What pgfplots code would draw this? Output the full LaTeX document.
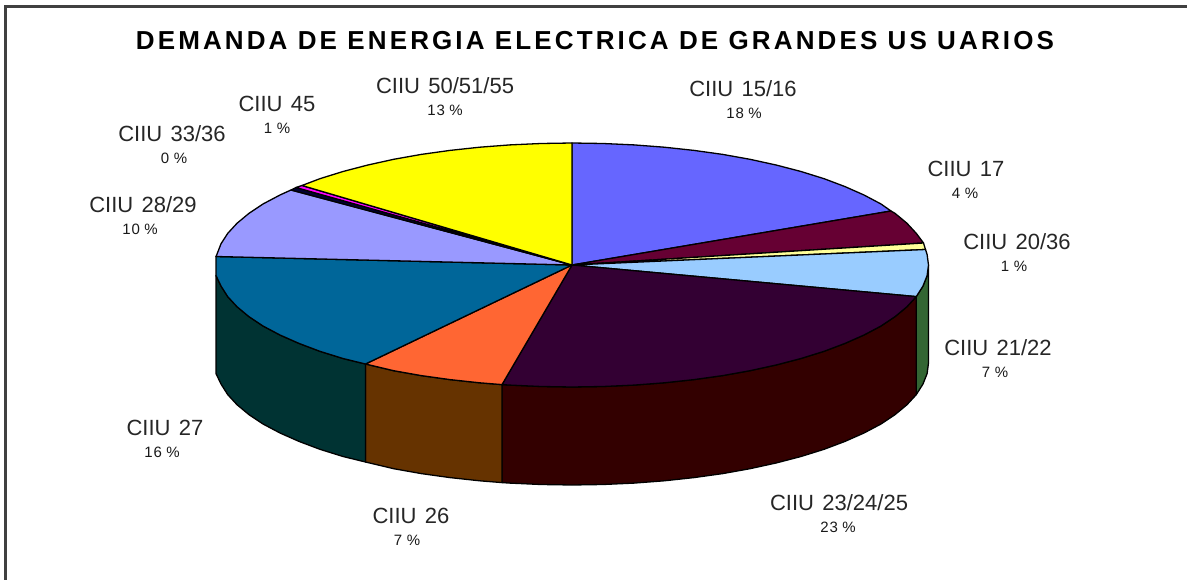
\documentclass[border=0pt]{standalone}
\usepackage{pgfplots}
\pgfplotsset{compat=1.18}
\usepackage{fontspec}
\setmainfont{Liberation Sans}
\newfontfamily\titlefont[LetterSpace=12,Scale=1.0]{Liberation Sans Bold}
\newfontfamily\pctfont[LetterSpace=6]{Liberation Sans}
\definecolor{cA}{HTML}{6666FF}
\definecolor{cB}{HTML}{660033}
\definecolor{cC}{HTML}{FFFF99}
\definecolor{cD}{HTML}{99CCFF}
\definecolor{cDs}{HTML}{336633}
\definecolor{cE}{HTML}{330033}
\definecolor{cEs}{HTML}{330000}
\definecolor{cF}{HTML}{FF6633}
\definecolor{cFs}{HTML}{663300}
\definecolor{cG}{HTML}{006699}
\definecolor{cGs}{HTML}{003333}
\definecolor{cH}{HTML}{9999FF}
\definecolor{cI}{HTML}{000033}
\definecolor{cJ}{HTML}{FF00FF}
\definecolor{cK}{HTML}{FFFF00}
\definecolor{frameC}{HTML}{404040}
\newcommand{\lab}[5]{%
  \node[font=\fontsize{22}{24}\selectfont,text=black!85,inner sep=0pt,anchor=center] at (axis cs:#1,#2) {CIIU\hspace{0.38em}#3};
  \node[font=\pctfont\fontsize{15}{17}\selectfont,text=black!90,inner sep=0pt,anchor=center] at (axis cs:#4,#2+24) {#5\hspace{0.3em}\%};
}
\begin{document}
\begin{tikzpicture}
\begin{axis}[
  scale only axis,
  width=1187pt,height=580pt,
  xmin=0,xmax=1187,ymin=0,ymax=580,
  y dir=reverse,
  hide axis,
  clip=true,
  every axis plot/.append style={draw=black,line width=1.3pt,line join=round},
]
% page extent
\addplot[draw=none,fill=white] coordinates {(0,0)(1187,0)(1187,580)(0,580)} --cycle;
% frame
\addplot[draw=frameC,line width=3pt,line join=miter] coordinates {(5.5,580)(5.5,6.5)(1187,6.5)};
% side walls
\addplot[fill=cDs] coordinates {(916.3,296.6)(923,286)(927.1,275.6)(928.5,265)(928.5,363)(927.1,373.6)(923,384)(916.3,394.6)} --cycle;
\addplot[fill=cEs] coordinates {(916.3,296.6)(907,306.7)(895.1,316.6)(881,326)(864,335)(845,343.4)(824.1,351.3)(801,358.5)(776.5,364.9)(750,370.7)(722.7,375.6)(694,379.6)(664.3,382.8)(634,385.1)(603.1,386.5)(572,387)(541,386.5)(510,385.1)(502,384.6)
 (502,482.6)(510,483.1)(541,484.5)(572,485)(603.1,484.5)(634,483.1)(664.3,480.8)(694,477.6)(722.7,473.6)(750,468.7)(776.5,462.9)(801,456.5)(824.1,449.3)(845,441.4)(864,433)(881,424)(895.1,414.6)(907,404.7)(916.3,394.6)} --cycle;
\addplot[fill=cFs] coordinates {(502,384.6)(479.7,382.8)(450,379.6)(421.3,375.6)(393.7,370.7)(365.5,364)
 (365.5,462)(393.7,468.7)(421.3,473.6)(450,477.6)(479.7,480.8)(502,482.6)} --cycle;
\addplot[fill=cGs] coordinates {(365.5,364)(343,358.5)(319.9,351.3)(299,343.4)(280,335)(263,326)(248.9,316.6)(237,306.7)(227.7,296.6)(221,286)(216,275.6)
 (216,373.6)(221,384)(227.7,394.6)(237,404.7)(248.9,414.6)(263,424)(280,433)(299,441.4)(319.9,449.3)(343,456.5)(365.5,462)} --cycle;
% top wedges
\addplot[fill=cA] coordinates {(572,265)(572,143)(603.1,143.5)(634,144.9)(664.3,147.2)(694,150.4)(722.7,154.4)(750,159.3)(776.5,165.1)(801,171.5)(824.1,178.7)(845,186.6)(864,195)(881,204)(891,211)} --cycle;
\addplot[fill=cB] coordinates {(572,265)(891,211)(895.1,213.4)(907,223.3)(916.3,233.4)(923.5,243)} --cycle;
\addplot[fill=cC] coordinates {(572,265)(923.5,243)(925.5,249.5)} --cycle;
\addplot[fill=cD] coordinates {(572,265)(925.5,249.5)(927.1,254.4)(928.5,265)(927.1,275.6)(923,286)(916.3,296.6)} --cycle;
\addplot[fill=cE] coordinates {(572,265)(916.3,296.6)(907,306.7)(895.1,316.6)(881,326)(864,335)(845,343.4)(824.1,351.3)(801,358.5)(776.5,364.9)(750,370.7)(722.7,375.6)(694,379.6)(664.3,382.8)(634,385.1)(603.1,386.5)(572,387)(541,386.5)(510,385.1)(502,384.6)} --cycle;
\addplot[fill=cF] coordinates {(572,265)(502,384.6)(479.7,382.8)(450,379.6)(421.3,375.6)(393.7,370.7)(365.5,364)} --cycle;
\addplot[fill=cG] coordinates {(572,265)(365.5,364)(343,358.5)(319.9,351.3)(299,343.4)(280,335)(263,326)(248.9,316.6)(237,306.7)(227.7,296.6)(221,286)(216,275.6)(216,256.5)} --cycle;
\addplot[fill=cH] coordinates {(572,265)(216,256.5)(216.9,254.4)(221,243.8)(227.7,233.4)(237,223.3)(248.9,213.4)(263,204)(280,195)(291,190)} --cycle;
\addplot[fill=cI] coordinates {(572,265)(291,190)(296,187.5)} --cycle;
\addplot[fill=cJ] coordinates {(572,265)(296,187.5)(302,185.5)} --cycle;
\addplot[fill=cK] coordinates {(572,265)(302,185.5)(319.9,178.7)(343,171.5)(367.5,165.1)(393.7,159.3)(421.3,154.4)(450,150.4)(479.7,147.2)(510,144.9)(541,143.5)(572,143)} --cycle;
% title
\node[font=\titlefont\fontsize{26}{28}\selectfont,inner sep=0pt,anchor=center] at (axis cs:595,41) {DEMANDA DE ENERGIA ELECTRICA DE GRANDES US UARIOS};
% labels
\lab{743}{89}{15/16}{744}{18}
\lab{966}{169}{17}{965}{4}
\lab{1017}{242}{20/36}{1014}{1}
\lab{998}{348}{21/22}{995}{7}
\lab{839}{503}{23/24/25}{838}{23}
\lab{411}{516}{26}{407}{7}
\lab{165}{428}{27}{162}{16}
\lab{143}{205}{28/29}{140}{10}
\lab{172}{134}{33/36}{174}{0}
\lab{277}{104}{45}{277}{1}
\lab{445}{86}{50/51/55}{445}{13}
\end{axis}
\end{tikzpicture}
\end{document}
